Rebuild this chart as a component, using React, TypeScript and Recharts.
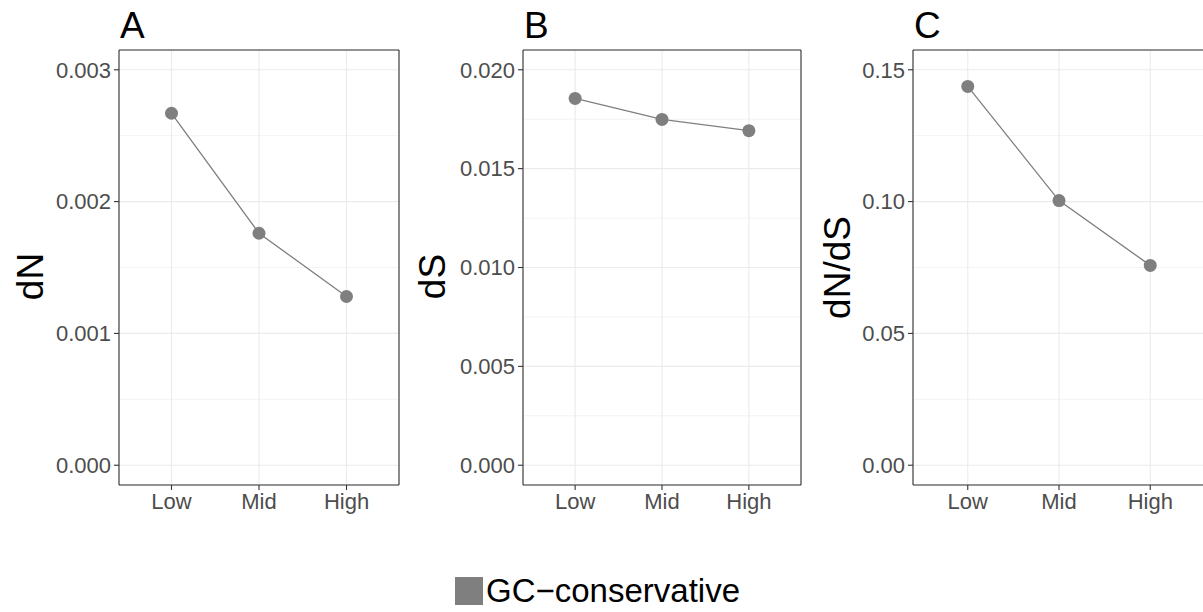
import React from "react";
import {
  LineChart,
  Line,
  XAxis,
  YAxis,
  CartesianGrid,
} from "recharts";

const levels = ["Low", "Mid", "High"];

const dnValues = [0.00267, 0.00176, 0.00128];
const dsValues = [0.01855, 0.01749, 0.01692];
const dndsValues = [0.1437, 0.1004, 0.0758];

const dnTicks = [0, 0.001, 0.002, 0.003];
const dnMinor = [0.0005, 0.0015, 0.0025];
const dsTicks = [0, 0.005, 0.01, 0.015, 0.02];
const dsMinor = [0.0025, 0.0075, 0.0125, 0.0175];
const dndsTicks = [0, 0.05, 0.1, 0.15];
const dndsMinor = [0.025, 0.075, 0.125];

const FONT = "'Liberation Sans', Arial, Helvetica, sans-serif";
const GREY = "#7f7f7f";
const AXIS = "#333333";

interface PanelProps {
  letter: string;
  title: string;
  values: number[];
  ticks: number[];
  minor: number[];
  domain: [number, number];
  digits: number;
  left: number;
  width: number;
  axisWidth: number;
  titleX: number;
  titleShift: number;
}

function Panel(p: PanelProps) {
  const data = levels.map((level, i) => ({ level, value: p.values[i] }));
  const plotW = p.width - p.axisWidth - 1;
  const pad = plotW * 0.1875;

  const yTitle = (props: any) => {
    const vb = props.viewBox;
    const cx = p.titleX;
    const cy = vb.y + vb.height / 2 + p.titleShift;
    return (
      <text
        x={cx}
        y={cy}
        transform={`rotate(-90, ${cx}, ${cy})`}
        textAnchor="middle"
        fontSize={37}
        fontFamily={FONT}
        fill="#000"
      >
        {p.title}
      </text>
    );
  };

  return (
    <div style={{ position: "absolute", left: p.left, top: 0 }}>
      <div
        style={{
          position: "absolute",
          left: p.axisWidth + 1,
          top: 6,
          fontSize: 37,
          fontFamily: FONT,
          lineHeight: "40px",
        }}
      >
        {p.letter}
      </div>
      <LineChart
        width={p.width}
        height={540}
        data={data}
        margin={{ top: 49, right: 0, bottom: 0, left: 0 }}
      >
        <CartesianGrid
          horizontalValues={p.minor}
          vertical={false}
          stroke="#ebebeb"
          strokeWidth={0.6}
        />
        <CartesianGrid stroke="#ebebeb" strokeWidth={1.1} />
        <XAxis
          dataKey="level"
          scale="point"
          padding={{ left: pad, right: pad }}
          height={55}
          tickSize={5}
          tickMargin={3}
          tickLine={{ stroke: AXIS, strokeWidth: 1.1 }}
          axisLine={{ stroke: AXIS, strokeWidth: 1.1 }}
          tick={{ fill: "#4d4d4d", fontSize: 22, fontFamily: FONT }}
        />
        <XAxis
          xAxisId="top"
          orientation="top"
          dataKey="level"
          scale="point"
          padding={{ left: pad, right: pad }}
          height={1}
          tick={false}
          tickLine={false}
          axisLine={{ stroke: AXIS, strokeWidth: 1.1 }}
        />
        <YAxis
          type="number"
          domain={p.domain}
          ticks={p.ticks}
          width={p.axisWidth}
          tickSize={5}
          tickMargin={3}
          tickFormatter={(v: number) => v.toFixed(p.digits)}
          tickLine={{ stroke: AXIS, strokeWidth: 1.1 }}
          axisLine={{ stroke: AXIS, strokeWidth: 1.1 }}
          tick={{ fill: "#4d4d4d", fontSize: 22, fontFamily: FONT }}
          label={{ content: yTitle }}
        />
        <YAxis
          yAxisId="right"
          orientation="right"
          type="number"
          domain={p.domain}
          width={1}
          tick={false}
          tickLine={false}
          axisLine={{ stroke: AXIS, strokeWidth: 1.1 }}
        />
        <Line
          type="linear"
          dataKey="value"
          stroke={GREY}
          strokeWidth={1.3}
          dot={{ r: 6.5, fill: GREY, stroke: "none" }}
          activeDot={false}
          isAnimationActive={false}
        />
      </LineChart>
    </div>
  );
}

export default function App() {
  return (
    <div
      style={{
        position: "absolute",
        left: 0,
        top: 0,
        width: 1203,
        height: 612,
        overflow: "hidden",
        background: "#fff",
      }}
    >
      <Panel
        letter="A"
        title="dN"
        values={dnValues}
        ticks={dnTicks}
        minor={dnMinor}
        domain={[-0.00015, 0.00315]}
        digits={3}
        left={0}
        width={400}
        axisWidth={119}
        titleX={43}
        titleShift={9}
      />
      <Panel
        letter="B"
        title="dS"
        values={dsValues}
        ticks={dsTicks}
        minor={dsMinor}
        domain={[-0.001, 0.021]}
        digits={3}
        left={400}
        width={402}
        axisWidth={123}
        titleX={45}
        titleShift={9}
      />
      <Panel
        letter="C"
        title="dN/dS"
        values={dndsValues}
        ticks={dndsTicks}
        minor={dndsMinor}
        domain={[-0.0075, 0.1575]}
        digits={2}
        left={800}
        width={406}
        axisWidth={113}
        titleX={50}
        titleShift={0}
      />
      <div
        style={{
          position: "absolute",
          left: 455,
          top: 577,
          display: "flex",
          alignItems: "center",
          fontFamily: FONT,
          fontSize: 33,
        }}
      >
        <div style={{ width: 28, height: 28, background: GREY, marginRight: 3 }} />
        <span style={{ lineHeight: "28px" }}>GC−conservative</span>
      </div>
    </div>
  );
}
